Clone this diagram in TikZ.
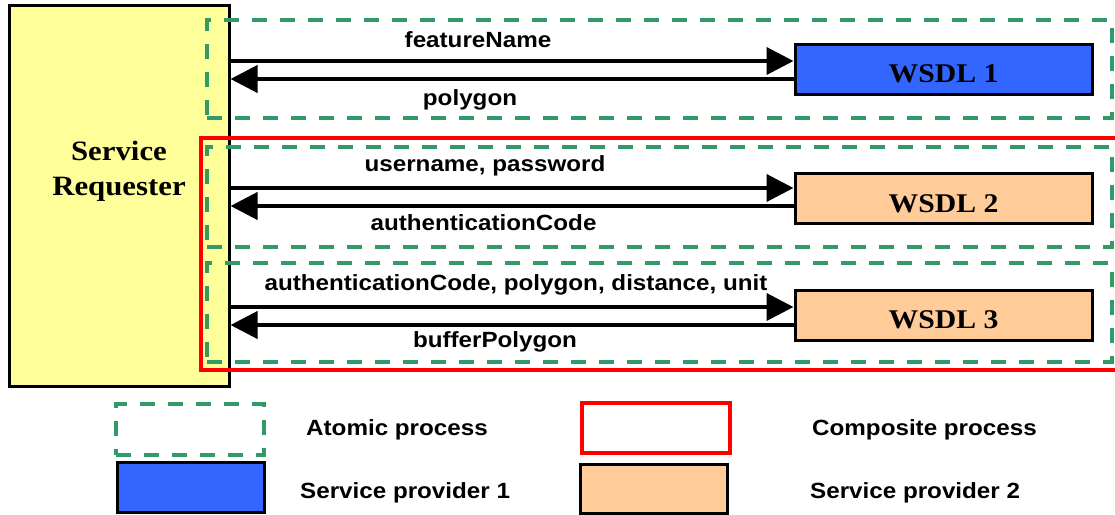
\documentclass[tikz,border=0pt]{standalone}
\usepackage{fontspec}
\setmainfont{Liberation Serif}[FakeStretch=1.1]
\newfontfamily\msgfont{Liberation Sans}[FakeStretch=1.1]
\usepackage{tikz}
\usetikzlibrary{arrows.meta, positioning}
\definecolor{ReqYellow}{HTML}{FFFF99}
\definecolor{ProvBlue}{HTML}{3366FF}
\definecolor{ProvPeach}{HTML}{FFCC99}
\definecolor{AtomGreen}{HTML}{339966}
\definecolor{CompRed}{HTML}{FF0000}

\tikzset{
  atomic/.style={draw=AtomGreen, line width=4pt, dash pattern=on 15pt off 13pt},
  composite/.style={draw=CompRed, line width=4.5pt},
  provbox/.style={draw=black, line width=3pt, minimum width=297pt, minimum height=50pt},
  wsdlbox/.style={provbox, font=\bfseries\fontsize{27}{30}\selectfont,
    text height=27pt, text depth=0pt},
  msg/.style={line width=4pt, -{Triangle[length=27pt, width=27pt]}},
  msglabel/.style={font=\msgfont\bfseries\fontsize{22}{26}\selectfont,
    anchor=base, inner sep=0pt},
  keylabel/.style={msglabel, anchor=base west},
}

\begin{document}
\begin{tikzpicture}[x=1pt, y=-1pt]
\useasboundingbox (0,0) rectangle (1115,514);

% requester on the left
\node[draw, line width=3pt, fill=ReqYellow,
      minimum width=220pt, minimum height=381pt] (req) at (119,196) {};
\node[font=\bfseries\fontsize{28}{35}\selectfont, align=center,
      inner sep=0pt] (reqname) at (119,171) {Service\\Requester};

% composite process round WSDL 2 and 3, atomic ones round each call
\node[composite, minimum width=917pt, minimum height=232pt] (comp) at (659.5,254) {};
\node[atomic, minimum width=905pt, minimum height=98pt] (atom1) at (659.5,69) {};
\node[atomic, minimum width=905pt, minimum height=100pt] (atom2) at (659.5,197) {};
\node[atomic, minimum width=905pt, minimum height=99pt] (atom3) at (659.5,312.5) {};

% providers
\node[wsdlbox, fill=ProvBlue] (wsdl1) at (943.5,69) {WSDL 1};
\node[wsdlbox, fill=ProvPeach] (wsdl2) at (943.5,198.5) {WSDL 2};
\node[wsdlbox, fill=ProvPeach] (wsdl3) at (943.5,315) {WSDL 3};

% requests and replies
\draw[msg] (req.east |- 0,61) -- (wsdl1.west |- 0,61);
\draw[msg] (wsdl1.west |- 0,79) -- (req.east |- 0,79);
\draw[msg] (req.east |- 0,188) -- (wsdl2.west |- 0,188);
\draw[msg] (wsdl2.west |- 0,206) -- (req.east |- 0,206);
\draw[msg] (req.east |- 0,307) -- (wsdl3.west |- 0,307);
\draw[msg] (wsdl3.west |- 0,325) -- (req.east |- 0,325);

\node[msglabel] (in1) at (478,47) {featureName};
\node[msglabel] (out1) at (470,105) {polygon};
\node[msglabel] (in2) at (485,171.5) {username, password};
\node[msglabel] (out2) at (483.5,230) {authenticationCode};
\node[msglabel] (in3) at (516,290) {authenticationCode, polygon, distance, unit};
\node[msglabel] (out3) at (495,347) {bufferPolygon};

% legend
\node[atomic, minimum width=148pt, minimum height=51pt] (keyatom) at (190,429.5) {};
\node[composite, minimum width=148pt, minimum height=50pt] (keycomp) at (656,428) {};
\node[provbox, fill=ProvBlue, minimum width=147pt] (keyprov1) at (190.5,487) {};
\node[provbox, fill=ProvPeach, minimum width=147pt, minimum height=49pt] (keyprov2) at (653.5,488.5) {};
\node[keylabel] (txtatom) at (306,435) {Atomic process};
\node[keylabel] (txtcomp) at (812,435) {Composite process};
\node[keylabel] (txtprov1) at (300,498) {Service provider 1};
\node[keylabel] (txtprov2) at (810,498) {Service provider 2};
\end{tikzpicture}
\end{document}
